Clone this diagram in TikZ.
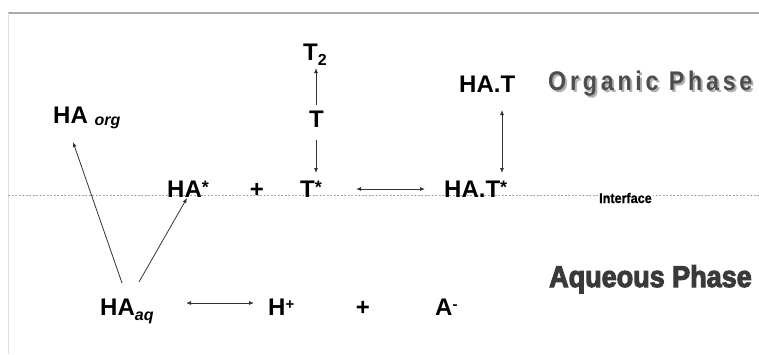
\documentclass[tikz,border=0pt]{standalone}
\usepackage{fontspec}
\setmainfont{Liberation Sans}
\newfontfamily\orgfont[FakeStretch=0.86,LetterSpace=14]{Liberation Sans}
\newfontfamily\aqfont[FakeStretch=0.9,FakeBold=3.5]{Liberation Sans}
\newfontfamily\ifont[FakeStretch=0.9,FakeBold=1]{Liberation Sans}
\usetikzlibrary{arrows.meta}

\definecolor{arrowgray}{HTML}{333333}
\definecolor{rulegray}{HTML}{AAAAAA}
\definecolor{phasegray}{HTML}{3A3A3A}
\definecolor{orggray}{HTML}{4D4D4D}
\definecolor{shadowgray}{HTML}{B0B0B0}

\newcommand{\supstar}{\raisebox{4pt}{\fontsize{18}{18}\selectfont *}}
\newcommand{\subtxt}[2]{\raisebox{#1}{\fontsize{16}{16}\selectfont #2}}
% text with a soft drop shadow set behind it
\newcommand{\shadowed}[1]{\makebox[0pt][l]{\hspace{2pt}\raisebox{-2pt}{\color{shadowgray}#1}}#1}

\tikzset{
  species/.style={font=\fontsize{24}{24}\selectfont\bfseries, inner sep=0pt, anchor=base west},
  plus/.style={font=\fontsize{24}{24}\selectfont\bfseries, inner sep=0pt, anchor=base},
  arr/.style={-{Latex[length=5pt,width=4pt]}, line width=0.8pt, draw=arrowgray},
  darr/.style={{Latex[length=5pt,width=4pt]}-{Latex[length=5pt,width=4pt]}, line width=0.8pt, draw=arrowgray},
  phase/.style={inner sep=0pt, anchor=base west},
}

\begin{document}
\begin{tikzpicture}[x=1pt,y=-1pt]
  \useasboundingbox (0,0) rectangle (759,354);

  % frame rules and the interface line
  \draw[rulegray, line width=1.5pt] (8,13) -- (759,13);
  \draw[black!12, line width=0.8pt] (8,13) -- (8,354);
  \draw[gray!70, line width=1pt, dash pattern=on 2pt off 1.5pt] (8,195.5) -- (759,195.5);

  % organic phase species
  \node[species] (T2) at (303,60) {T\subtxt{-5pt}{2}};
  \node[species] (T) at (309,127) {T};
  \node[species] (HAT) at (459,92) {HA.T};
  \node[species] (HAorg) at (53,123) {HA \subtxt{-2pt}{\itshape org}};

  % interface species
  \node[species] (HAs) at (167,197) {HA\supstar};
  \node[plus] (plusup) at (257,197) {+};
  \node[species] (Ts) at (300,197) {T\supstar};
  \node[species] (HATs) at (444,197) {HA.T\supstar};

  % aqueous phase species
  \node[species] (HAaq) at (100,315) {HA\subtxt{-5pt}{\itshape aq}};
  \node[species] (Hp) at (268,315) {H\raisebox{6pt}{\fontsize{15}{15}\selectfont +}};
  \node[plus] (pluslow) at (363,315) {+};
  \node[species] (Am) at (435,315) {A\raisebox{6pt}{\fontsize{15}{15}\selectfont -}};

  % phase labels
  \node[phase, text=orggray, font=\orgfont\bfseries\fontsize{27}{27}\selectfont]
    (organic) at (548,90) {\shadowed{Organic Phase}};
  \node[phase, text=phasegray, font=\aqfont\bfseries\fontsize{30}{30}\selectfont]
    (aqueous) at (549,287) {Aqueous Phase};
  \node[anchor=base west, inner sep=1pt, fill=white, font=\ifont\bfseries\fontsize{14}{14}\selectfont]
    (interface) at (598,203) {Interface};

  % reactions
  \draw[arr] ([xshift=7pt,yshift=22pt]T.base west) -- ([xshift=13pt,yshift=-8pt]T2.base west);
  \draw[arr] ([xshift=7pt,yshift=-13pt]T.base west) -- ([xshift=16pt,yshift=24pt]Ts.base west);
  \draw[darr] ([xshift=56pt,yshift=8pt]Ts.base west) -- ([xshift=-19pt,yshift=8pt]HATs.base west);
  \draw[darr] ([xshift=43pt,yshift=-18pt]HAT.base west) -- ([xshift=58pt,yshift=24pt]HATs.base west);
  \draw[arr] ([xshift=22pt,yshift=32pt]HAaq.base west) -- ([xshift=20pt,yshift=-19pt]HAorg.base west);
  \draw[arr] ([xshift=39pt,yshift=33pt]HAaq.base west) -- ([xshift=20pt,yshift=-1pt]HAs.base west);
  \draw[darr] ([xshift=86pt,yshift=12pt]HAaq.base west) -- ([xshift=-14pt,yshift=12pt]Hp.base west);
\end{tikzpicture}
\end{document}
